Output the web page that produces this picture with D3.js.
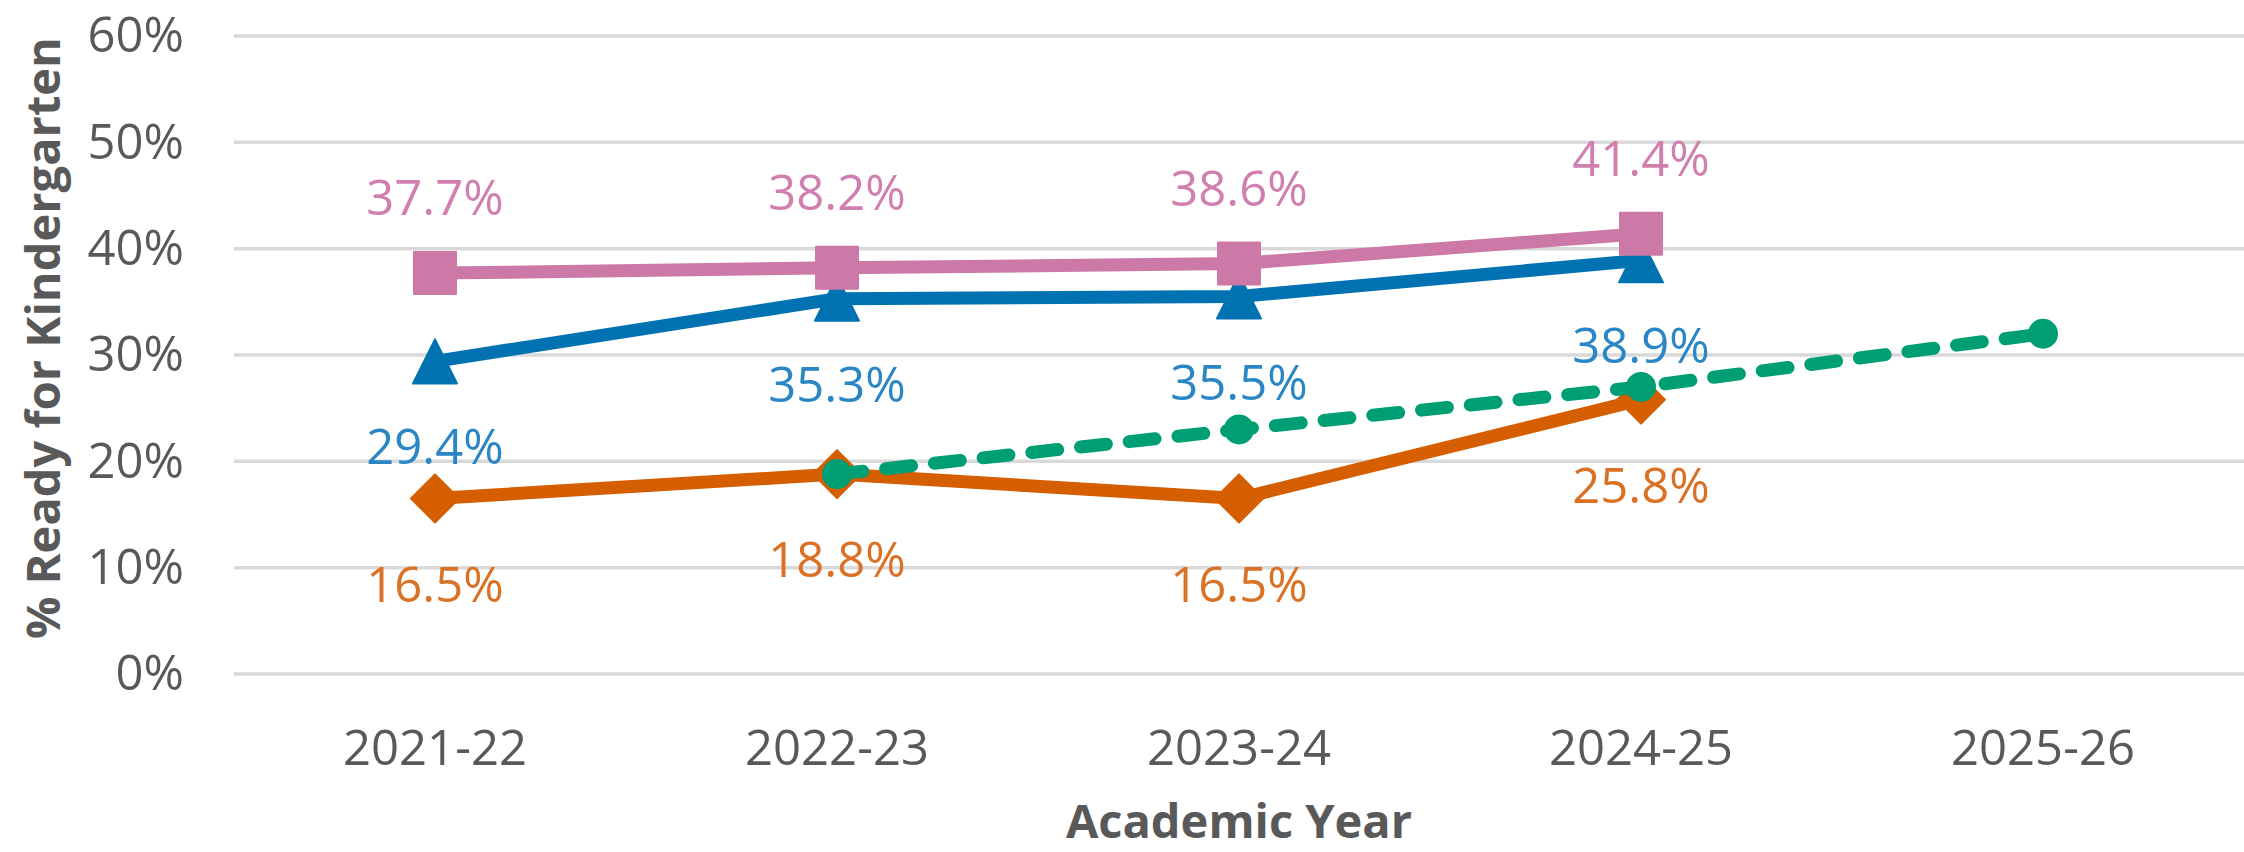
<!DOCTYPE html>
<html>
<head>
<meta charset="utf-8">
<script src="https://cdn.jsdelivr.net/npm/d3@7"></script>
<style>
  html, body { margin: 0; padding: 0; background: #fff; }
  svg { display: block; }
</style>
</head>
<body>
<div id="chart"></div>
<script>
var years = ["2021-22", "2022-23", "2023-24", "2024-25", "2025-26"];
var yTicks = [0, 10, 20, 30, 40, 50, 60];

var pinkVals = [37.7, 38.2, 38.6, 41.4];
var blueVals = [29.4, 35.3, 35.5, 38.9];
var orangeVals = [16.5, 18.8, 16.5, 25.8];
// dashed target line, starts at 2022-23
var greenYears = ["2022-23", "2023-24", "2024-25", "2025-26"];
var greenVals = [18.8, 23.0, 27.0, 32.0];

var width = 2244, height = 852;

var svg = d3.select("#chart")
  .append("svg")
    .attr("width", width)
    .attr("height", height);

var x = d3.scaleBand()
    .domain(years)
    .range([234, 2244]);

var y = d3.scaleLinear()
    .domain([0, 60])
    .range([674, 36]);

function cx(d) { return x(d) + x.bandwidth() / 2; }

// excel-like markers, centred on their bounding box (size = half width)
var triangleMark = {
  draw: function (ctx, r) {
    ctx.moveTo(0, -r);
    ctx.lineTo(r, r);
    ctx.lineTo(-r, r);
    ctx.closePath();
  }
};
var diamondMark = {
  draw: function (ctx, r) {
    ctx.moveTo(0, -r);
    ctx.lineTo(r, 0);
    ctx.lineTo(0, r);
    ctx.lineTo(-r, 0);
    ctx.closePath();
  }
};
var squareMark = {
  draw: function (ctx, r) {
    ctx.rect(-r, -r, 2 * r, 2 * r);
  }
};
var circleMark = {
  draw: function (ctx, r) {
    ctx.moveTo(r, 0);
    ctx.arc(0, 0, r, 0, 2 * Math.PI);
  }
};

// gridlines
svg.append("g")
  .selectAll("line")
  .data(yTicks)
  .enter()
  .append("line")
    .attr("x1", 234)
    .attr("x2", 2244)
    .attr("y1", function (d) { return y(d); })
    .attr("y2", function (d) { return y(d); })
    .style("stroke", "#d9d9d9")
    .style("stroke-width", 3.5);

// y axis labels
var yAxis = svg.append("g")
    .attr("transform", "translate(234,0)")
    .call(d3.axisLeft(y).tickValues(yTicks).tickSize(0).tickPadding(50)
      .tickFormat(function (d) { return d + "%"; }));
yAxis.select(".domain").remove();
yAxis.selectAll("text")
    .style("font-family", "'Open Sans', sans-serif")
    .style("font-size", "49px")
    .style("fill", "#595959");

// x axis labels
var xAxis = svg.append("g")
    .attr("transform", "translate(0,674)")
    .call(d3.axisBottom(x).tickSize(0).tickPadding(56));
xAxis.select(".domain").remove();
xAxis.selectAll("text")
    .style("font-family", "'Open Sans', sans-serif")
    .style("font-size", "49px")
    .style("fill", "#595959");

// axis titles
svg.append("text")
    .attr("x", 1239)
    .attr("y", 838)
    .attr("text-anchor", "middle")
    .style("font-family", "'Open Sans', sans-serif")
    .style("font-weight", "bold")
    .style("font-size", "47px")
    .style("fill", "#595959")
    .text("Academic Year");

svg.append("text")
    .attr("transform", "translate(60,338) rotate(-90)")
    .attr("text-anchor", "middle")
    .style("font-family", "'Open Sans', sans-serif")
    .style("font-weight", "bold")
    .style("font-size", "47px")
    .style("fill", "#595959")
    .text("% Ready for Kindergarten");

function drawSeries(cats, vals, color, dash) {
  var pts = vals.map(function (v, i) { return { cat: cats[i], v: v }; });
  var line = d3.line()
      .x(function (d) { return cx(d.cat); })
      .y(function (d) { return y(d.v); });
  svg.append("path")
      .datum(pts)
      .attr("d", line)
      .style("fill", "none")
      .style("stroke", color)
      .style("stroke-width", 13)
      .style("stroke-linecap", dash ? "round" : "butt")
      .style("stroke-linejoin", "round")
      .style("stroke-dasharray", dash ? "26,23" : null);
  return pts;
}

function drawMarkers(pts, type, size, color) {
  svg.append("g")
    .selectAll("path")
    .data(pts)
    .enter()
    .append("path")
      .attr("transform", function (d) { return "translate(" + cx(d.cat) + "," + y(d.v) + ")"; })
      .attr("d", d3.symbol().type(type).size(size))
      .style("fill", color)
      .style("stroke", color)
      .style("stroke-width", 2)
      .style("stroke-linejoin", "round");
}

function drawLabels(pts, color, dy) {
  svg.append("g")
    .selectAll("text")
    .data(pts)
    .enter()
    .append("text")
      .attr("x", function (d) { return cx(d.cat); })
      .attr("y", function (d) { return y(d.v) + dy; })
      .attr("text-anchor", "middle")
      .attr("dominant-baseline", "central")
      .style("font-family", "'Open Sans', sans-serif")
      .style("font-size", "49px")
      .style("fill", color)
      .text(function (d) { return d.v.toFixed(1) + "%"; });
}

var mainYears = years.slice(0, 4);

var orangePts = drawSeries(mainYears, orangeVals, "#d55e00", false);
drawMarkers(orangePts, diamondMark, 24, "#d55e00");

var bluePts = drawSeries(mainYears, blueVals, "#0072b2", false);
drawMarkers(bluePts, triangleMark, 22, "#0072b2");

var pinkPts = drawSeries(mainYears, pinkVals, "#cc79a7", false);
drawMarkers(pinkPts, squareMark, 21, "#cc79a7");

var greenPts = drawSeries(greenYears, greenVals, "#009e73", true);
drawMarkers(greenPts, circleMark, 14, "#009e73");

drawLabels(pinkPts, "#d07fae", -77);
drawLabels(bluePts, "#2a86c4", 84);
drawLabels(orangePts, "#db7124", 84);
</script>
</body>
</html>
